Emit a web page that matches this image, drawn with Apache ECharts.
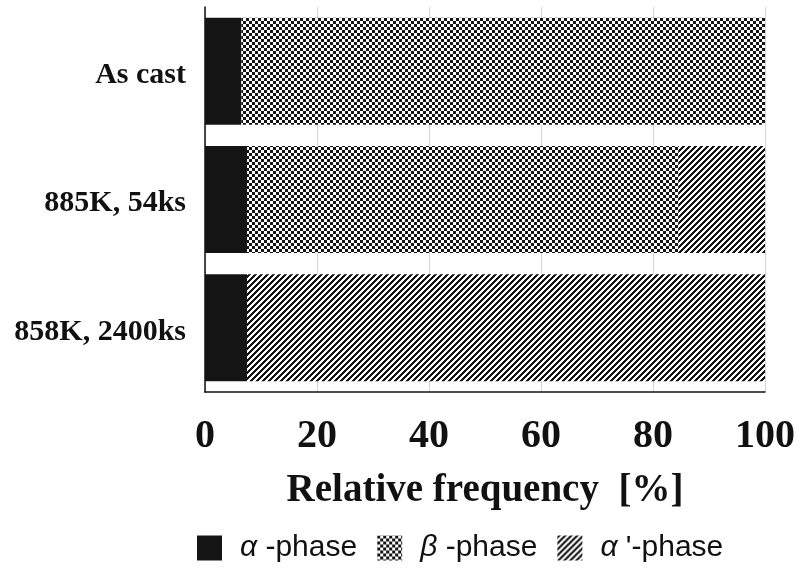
<!DOCTYPE html>
<html>
<head>
<meta charset="utf-8">
<script src="https://cdn.jsdelivr.net/npm/echarts@6/dist/echarts.min.js"></script>
<style>
  html, body { margin: 0; padding: 0; background: #fff; }
  #chart { width: 800px; height: 569px; }
</style>
</head>
<body>
<div id="chart"></div>
<script>
// ---- data ----
var categories = ['As cast', '885K, 54ks', '858K, 2400ks'];
var alphaPhase = [6.5, 7.5, 7.5];
var betaPhase = [93.5, 77, 0];
var alphaPrimePhase = [0, 15.5, 92.5];
var xTicks = [0, 20, 40, 60, 80, 100];
var seriesNames = ['α-phase', 'β-phase', "α'-phase"];

// ---- patterns ----
function makePattern(size, fn) {
  var c = document.createElement('canvas');
  c.width = size; c.height = size;
  var ctx = c.getContext('2d');
  ctx.fillStyle = '#fff';
  ctx.fillRect(0, 0, size, size);
  ctx.fillStyle = '#141414';
  for (var y = 0; y < size; y++) {
    for (var x = 0; x < size; x++) {
      if (fn(x, y)) ctx.fillRect(x, y, 1, 1);
    }
  }
  return { image: c, repeat: 'repeat' };
}
var checker = makePattern(6, function (x, y) {
  return (x < 3) === (y < 3);
});
var hatch = makePattern(6, function (x, y) {
  var v = (x + y) % 6;
  return v < 3;
});

var chart = echarts.init(document.getElementById('chart'), null, { renderer: 'canvas' });

var greek = { 'α-phase': ['α', ' -phase', 'a', 't'], 'β-phase': ['β', ' -phase', 'a', 'u'], "α'-phase": ['α', " '-phase", 'a', 't'] };

var option = {
  animation: false,
  backgroundColor: '#fff',
  grid: { left: 205, right: 35, top: 7, bottom: 177 },
  legend: {
    left: 192,
    top: 528,
    itemWidth: 25,
    itemHeight: 25,
    itemGap: 20,
    icon: 'rect',
    data: seriesNames,
    textStyle: {
      fontFamily: 'Liberation Sans',
      fontSize: 30,
      color: '#111',
      rich: {
        a: { fontFamily: 'Liberation Sans', fontStyle: 'italic', fontSize: 30, color: '#111', padding: [0, 0, 0, 13] },
        t: { fontFamily: 'Liberation Sans', fontSize: 30, color: '#111' },
        u: { fontFamily: 'Liberation Sans', fontSize: 30, color: '#111', padding: [0, 5, 0, 0] }
      }
    },
    formatter: function (name) {
      var g = greek[name];
      return '{' + g[2] + '|' + g[0] + '}{' + g[3] + '|' + g[1] + '}';
    }
  },
  xAxis: {
    type: 'value',
    min: 0,
    max: 100,
    interval: 20,
    name: 'Relative frequency  [%]',
    nameLocation: 'middle',
    nameGap: 79,
    nameTextStyle: {
      fontFamily: 'Liberation Serif',
      fontWeight: 'bold',
      fontSize: 39,
      color: '#111'
    },
    axisLine: { show: true, lineStyle: { color: '#111', width: 1.5 } },
    axisTick: { show: false },
    splitLine: { show: true, lineStyle: { color: '#d4d4d4', width: 1 } },
    axisLabel: {
      margin: 25,
      fontFamily: 'Liberation Serif',
      fontWeight: 'bold',
      fontSize: 40,
      color: '#111',
      formatter: function (v) { return xTicks.indexOf(v) >= 0 ? String(v) : ''; }
    }
  },
  yAxis: {
    type: 'category',
    data: categories,
    inverse: true,
    axisLine: { show: true, lineStyle: { color: '#111', width: 1.5 } },
    axisTick: { show: false },
    axisLabel: {
      margin: 19,
      verticalAlign: 'top',
      lineHeight: 8,
      fontFamily: 'Liberation Serif',
      fontWeight: 'bold',
      fontSize: 30,
      color: '#111'
    }
  },
  series: [
    {
      name: seriesNames[0], type: 'bar', stack: 'total', barWidth: 107,
      itemStyle: { color: '#141414' },
      data: alphaPhase
    },
    {
      name: seriesNames[1], type: 'bar', stack: 'total', barWidth: 107,
      itemStyle: { color: checker },
      data: betaPhase
    },
    {
      name: seriesNames[2], type: 'bar', stack: 'total', barWidth: 107,
      itemStyle: { color: hatch },
      data: alphaPrimePhase
    }
  ]
};
chart.setOption(option);
</script>
</body>
</html>
